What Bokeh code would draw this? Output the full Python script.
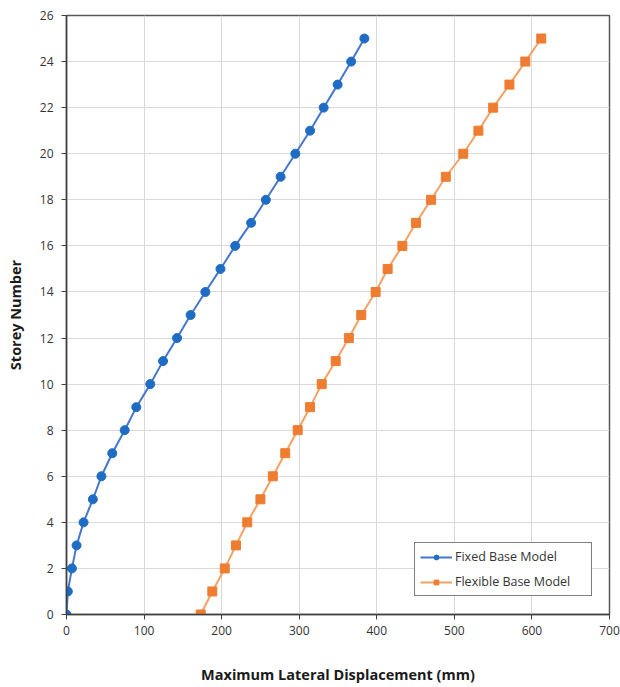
from bokeh.plotting import figure
from bokeh.models import Legend, LegendItem, FixedTicker
from bokeh.embed import file_html
from bokeh.resources import INLINE

# Storey levels and maximum lateral displacement (mm) per model
storeys = list(range(0, 26))
fixed_base = [0, 1.7, 7, 13, 22, 34, 45, 59, 75, 90, 108, 124.5, 142.5, 160, 179,
              198.5, 217.5, 238, 257, 276, 295, 314, 331.5, 349.5, 367, 384]
flexible_base = [173, 188, 204, 218.5, 233, 250, 266, 282, 298, 314, 329, 347, 364,
                 380, 398.5, 414, 433, 450.5, 470, 489, 511.5, 531, 550, 571, 591.5, 612]

x_ticks = [0, 100, 200, 300, 400, 500, 600, 700]
y_ticks = list(range(0, 27, 2))

FONT = "Open Sans"
BLUE_LINE = "#4677cc"
BLUE_MARK = "#1f6cc4"
ORANGE_LINE = "#f4a165"
ORANGE_MARK = "#ee7d31"

p = figure(width=620, height=687, output_backend="svg", toolbar_location=None,
           x_range=(0, 700), y_range=(0, 26),
           min_border_left=66, min_border_right=11, min_border_top=15, min_border_bottom=73)

p.outline_line_color = "#595959"
p.outline_line_width = 1.5
p.background_fill_color = "white"
p.border_fill_color = "white"

for ax in (p.xaxis[0], p.yaxis[0]):
    ax.axis_line_color = "#404040"
    ax.axis_line_width = 1.5
    ax.major_tick_line_color = "#404040"
    ax.major_tick_out = 5
    ax.major_tick_in = 0
    ax.minor_tick_line_color = None
    ax.major_label_text_font = FONT
    ax.major_label_text_font_size = "12px"
    ax.major_label_text_color = "#333333"
    ax.axis_label_text_font = FONT
    ax.axis_label_text_font_style = "bold"
    ax.axis_label_text_font_size = "14.5px"
    ax.axis_label_text_color = "#1a1a1a"

p.xaxis.ticker = FixedTicker(ticks=x_ticks)
p.yaxis.ticker = FixedTicker(ticks=y_ticks)
p.xaxis.axis_label = "Maximum Lateral Displacement (mm)"
p.yaxis.axis_label = "Storey Number"
p.xaxis.axis_label_standoff = 27
p.yaxis.axis_label_standoff = 12
p.xaxis.major_label_standoff = 6
p.yaxis.major_label_standoff = 8

p.xgrid.grid_line_color = "#d9d9d9"
p.ygrid.grid_line_color = "#d9d9d9"
p.xgrid.ticker = FixedTicker(ticks=x_ticks)
p.ygrid.ticker = FixedTicker(ticks=y_ticks)

l1 = p.line(fixed_base, storeys, line_color=BLUE_LINE, line_width=2)
m1 = p.scatter(fixed_base, storeys, marker="circle", size=9,
               fill_color=BLUE_MARK, line_color=BLUE_MARK)
l2 = p.line(flexible_base, storeys, line_color=ORANGE_LINE, line_width=2)
m2 = p.scatter(flexible_base, storeys, marker="square", size=9,
               fill_color=ORANGE_MARK, line_color=ORANGE_MARK)

legend = Legend(items=[LegendItem(label="Fixed Base Model", renderers=[l1, m1]),
                       LegendItem(label="Flexible Base Model", renderers=[l2, m2])],
                location=(348, 18))
legend.border_line_color = "black"
legend.border_line_width = 1
legend.label_text_font = FONT
legend.label_text_font_size = "12.5px"
legend.label_text_color = "#333333"
legend.glyph_width = 32
legend.glyph_height = 12
legend.label_height = 12
legend.label_width = 131
legend.label_standoff = 3
legend.spacing = 8
legend.padding = 5
legend.margin = 0
legend.background_fill_alpha = 1
p.add_layout(legend, "center")

open("out.html", "w").write(file_html(p, INLINE))
